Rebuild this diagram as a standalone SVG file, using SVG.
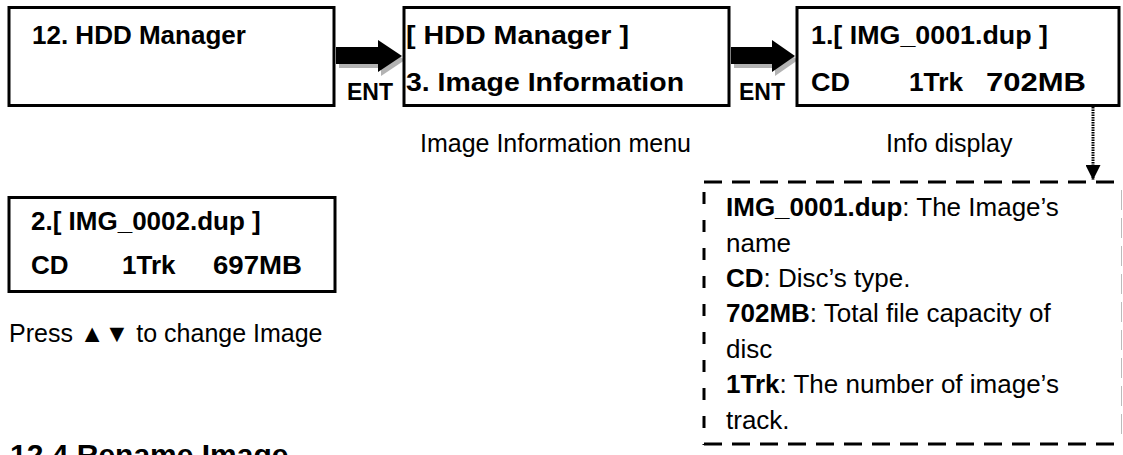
<svg xmlns="http://www.w3.org/2000/svg" width="1123" height="455" viewBox="0 0 1123 455">
<defs>
<style>
.box{fill:#fff;stroke:#000;stroke-width:3}
.bt{font-family:"Liberation Sans",Arial,sans-serif;font-weight:bold;font-size:26px;fill:#000}
.lbl{font-family:"Liberation Sans",Arial,sans-serif;font-size:25px;fill:#000}
.ent{font-family:"Liberation Sans",Arial,sans-serif;font-weight:bold;font-size:23px;fill:#000}
.dt{font-family:"Liberation Sans",Arial,sans-serif;font-size:26px;fill:#000}
.shadow{fill:#b3b3b3}
</style>
<marker id="ah" viewBox="0 0 10 10" refX="10" refY="5" markerWidth="15" markerHeight="15" markerUnits="userSpaceOnUse" orient="auto">
<path d="M0,0 L10,5 L0,10 Z" fill="#000"/>
</marker>
</defs>
<rect width="1123" height="455" fill="#fff"/>

<g id="connectors">
  <g id="arrow1">
    <path class="shadow" d="M339,51 H381 V44 L405,60 L381,76 V68 H339 Z"/>
    <path d="M336,47 H378 V40 L402,56 L378,72 V64 H336 Z" fill="#000"/>
    <text class="ent" x="347" y="100">ENT</text>
  </g>
  <g id="arrow2">
    <path class="shadow" d="M734,51 H775 V44 L798,60 L775,76 V68 H734 Z"/>
    <path d="M731,47 H772 V40 L795,56 L772,72 V64 H731 Z" fill="#000"/>
    <text class="ent" x="739" y="100">ENT</text>
  </g>
  <line id="dotted" x1="1093" y1="107" x2="1093" y2="180" stroke="#000" stroke-width="3" stroke-dasharray="1.5 1" marker-end="url(#ah)"/>
</g>

<g id="node-hdd-manager">
  <rect class="box" x="9" y="7.5" width="325" height="98"/>
  <text class="bt" x="32" y="43.5">12. HDD Manager</text>
</g>

<g id="node-image-info-menu">
  <rect class="box" x="404" y="7.5" width="325" height="98"/>
  <text class="bt" x="406" y="43.5" textLength="223" lengthAdjust="spacingAndGlyphs">[ HDD Manager ]</text>
  <text class="bt" x="406" y="91" textLength="278" lengthAdjust="spacingAndGlyphs">3. Image Information</text>
</g>

<g id="node-info-display">
  <rect class="box" x="797" y="7.5" width="322" height="98"/>
  <text class="bt" x="811" y="43.5" textLength="237" lengthAdjust="spacingAndGlyphs">1.[ IMG_0001.dup ]</text>
  <text class="bt" x="811" y="91" textLength="39" lengthAdjust="spacingAndGlyphs">CD</text>
  <text class="bt" x="909" y="91" textLength="54" lengthAdjust="spacingAndGlyphs">1Trk</text>
  <text class="bt" x="986" y="91" textLength="100" lengthAdjust="spacingAndGlyphs">702MB</text>
</g>

<g id="labels">
  <text class="lbl" x="420" y="152">Image Information menu</text>
  <text class="lbl" x="886" y="152">Info display</text>
  <text class="lbl" x="9" y="342">Press ▲▼ to change Image</text>
</g>

<g id="node-image2">
  <rect class="box" x="9" y="197.5" width="326" height="94"/>
  <text class="bt" x="31" y="230">2.[ IMG_0002.dup ]</text>
  <text class="bt" x="31" y="274">CD</text>
  <text class="bt" x="122" y="274">1Trk</text>
  <text class="bt" x="213" y="274" textLength="89" lengthAdjust="spacingAndGlyphs">697MB</text>
</g>

<g id="node-legend">
  <line x1="704" y1="182" x2="1122" y2="182" stroke="#000" stroke-width="3" stroke-dasharray="18 10"/>
  <line x1="704" y1="444" x2="1122" y2="444" stroke="#000" stroke-width="3" stroke-dasharray="18 10"/>
  <line x1="704" y1="192" x2="704" y2="445" stroke="#000" stroke-width="3" stroke-dasharray="12 16"/>
  <line x1="1121.5" y1="190" x2="1121.5" y2="440" stroke="#bbb" stroke-width="1" stroke-dasharray="20 8"/>
  <text class="dt" x="726" y="216"><tspan font-weight="bold">IMG_0001.dup</tspan>: The Image’s</text>
  <text class="dt" x="726" y="251.5">name</text>
  <text class="dt" x="726" y="287"><tspan font-weight="bold">CD</tspan>: Disc’s type.</text>
  <text class="dt" x="726" y="322"><tspan font-weight="bold">702MB</tspan>: Total file capacity of</text>
  <text class="dt" x="726" y="357.5">disc</text>
  <text class="dt" x="726" y="393"><tspan font-weight="bold">1Trk</tspan>: The number of image’s</text>
  <text class="dt" x="726" y="428.5">track.</text>
</g>

<text x="10" y="465" font-family="Liberation Sans,Arial,sans-serif" font-weight="bold" font-size="30">12.4 Rename Image</text>
</svg>
